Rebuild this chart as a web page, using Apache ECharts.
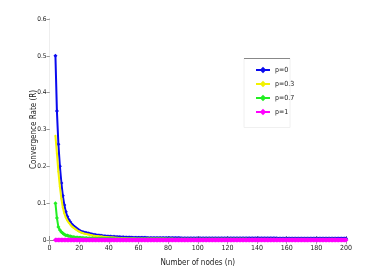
<!DOCTYPE html>
<html><head><meta charset="utf-8">
<script src="https://cdn.jsdelivr.net/npm/echarts@6/dist/echarts.min.js"></script>
<style>html,body{margin:0;padding:0;background:#fff}#c{width:382px;height:272px}</style>
</head><body><div id="c"></div>
<script>
var nodes = [4,5,6,7,8,9,10,11,12,13,
14,15,16,17,18,19,20,21,22,23,
24,25,26,27,28,29,30,31,32,33,
34,35,36,37,38,39,40,41,42,43,
44,45,46,47,48,49,50,51,52,53,
54,55,56,57,58,59,60,61,62,63,
64,65,66,67,68,69,70,71,72,73,
74,75,76,77,78,79,80,81,82,83,
84,85,86,87,88,89,90,91,92,93,
94,95,96,97,98,99,100,101,102,103,
104,105,106,107,108,109,110,111,112,113,
114,115,116,117,118,119,120,121,122,123,
124,125,126,127,128,129,130,131,132,133,
134,135,136,137,138,139,140,141,142,143,
144,145,146,147,148,149,150,151,152,153,
154,155,156,157,158,159,160,161,162,163,
164,165,166,167,168,169,170,171,172,173,
174,175,176,177,178,179,180,181,182,183,
184,185,186,187,188,189,190,191,192,193,
194,195,196,197,198,199,200];
var p0 = [.5,.35,.26,.2,.155,.12,.095,.077,.064,.055,
.049,.043,.039,.035,.032,.029,.026,.024,.022,.021,
.02,.019,.018,.017,.016,.015,.014,.0135,.013,.0125,
.012,.0115,.011,.0105,.01,.0098,.0095,.0092,.009,.0087,
.0085,.0083,.0081,.0079,.0077,.0075,.0073,.0071,.0069,.0067,
.0066,.0065,.0064,.0063,.0062,.0061,.006,.006,.0059,.0059,
.0058,.0058,.0057,.0057,.0056,.0056,.0055,.0055,.0054,.0054,
.0053,.0053,.0053,.0053,.0053,.0052,.0052,.0052,.0052,.0052,
.0051,.0051,.0051,.0051,.0051,.005,.005,.005,.005,.005,
.005,.005,.005,.005,.005,.005,.005,.005,.005,.005,
.0049,.0049,.0049,.0049,.0049,.0049,.0049,.0049,.0049,.0049,
.0048,.0048,.0048,.0048,.0048,.0048,.0048,.0048,.0048,.0048,
.0047,.0047,.0047,.0047,.0047,.0047,.0047,.0047,.0047,.0047,
.0046,.0046,.0046,.0046,.0046,.0046,.0046,.0046,.0046,.0046,
.0045,.0045,.0045,.0045,.0045,.0045,.0045,.0045,.0045,.0045,
.0044,.0044,.0044,.0044,.0044,.0044,.0044,.0044,.0044,.0044,
.0043,.0043,.0043,.0043,.0043,.0043,.0043,.0043,.0043,.0043,
.0042,.0042,.0042,.0042,.0042,.0042,.0042,.0042,.0042,.0042,
.0041,.0041,.0041,.0041,.0041,.0041,.0041,.0041,.0041,.0041,
.004,.004,.004,.004,.004,.004,.004];
var p03 = [.283,.235,.185,.145,.112,.088,.072,.061,.053,.047,
.042,.037,.034,.031,.028,.025,.023,.021,.019,.018,
.017,.016,.015,.014,.013,.012,.0115,.011,.0105,.01,
.0096,.0092,.0088,.0084,.008,.0077,.0074,.0071,.0068,.0065,
.0062,.006,.0058,.0056,.0054,.0052,.005,.0048,.0046,.0044,
.0042,.004,.0039,.0038,.0037,.0036,.0035,.0035,.0034,.0034,
.0033,.0033,.0033,.0033,.0033,.0032,.0032,.0032,.0032,.0032,
.0031,.0031,.0031,.0031,.0031,.003,.003,.003,.003,.003,
.003,.003,.003,.003,.003,.003,.003,.003,.003,.003,
.0029,.0029,.0029,.0029,.0029,.0029,.0029,.0029,.0029,.0029,
.0028,.0028,.0028,.0028,.0028,.0028,.0028,.0028,.0028,.0028,
.0027,.0027,.0027,.0027,.0027,.0027,.0027,.0027,.0027,.0027,
.0026,.0026,.0026,.0026,.0026,.0026,.0026,.0026,.0026,.0026,
.0025,.0025,.0025,.0025,.0025,.0025,.0025,.0025,.0025,.0025,
.0024,.0024,.0024,.0024,.0024,.0024,.0024,.0024,.0024,.0024,
.0023,.0023,.0023,.0023,.0023,.0023,.0023,.0023,.0023,.0023,
.0022,.0022,.0022,.0022,.0022,.0022,.0022,.0022,.0022,.0022,
.0021,.0021,.0021,.0021,.0021,.0021,.0021,.0021,.0021,.0021,
.002,.002,.002,.002,.002,.002,.002,.002,.002,.002,
.002,.002,.002,.002,.002,.002,.002];
var p07 = [.1,.06,.035,.027,.022,.018,.015,.013,.012,.011,
.01,.009,.008,.0075,.007,.0066,.0063,.006,.0058,.0056,
.0054,.0052,.005,.0048,.0046,.0045,.0044,.0043,.0042,.0041,
.004,.0039,.0038,.0037,.0036,.0035,.0034,.0033,.0032,.0031,
.003,.003,.003,.003,.003,.003,.003,.003,.003,.003,
.0028,.0028,.0028,.0028,.0028,.0028,.0028,.0028,.0028,.0028,
.0026,.0026,.0026,.0026,.0026,.0026,.0026,.0026,.0026,.0026,
.0024,.0024,.0024,.0024,.0024,.0024,.0024,.0024,.0024,.0024,
.0022,.0022,.0022,.0022,.0022,.0022,.0022,.0022,.0022,.0022,
.002,.002,.002,.002,.002,.002,.002,.002,.002,.002,
.0019,.0019,.0019,.0019,.0019,.0019,.0019,.0019,.0019,.0019,
.0018,.0018,.0018,.0018,.0018,.0018,.0018,.0018,.0018,.0018,
.0017,.0017,.0017,.0017,.0017,.0017,.0017,.0017,.0017,.0017,
.0016,.0016,.0016,.0016,.0016,.0016,.0016,.0016,.0016,.0016,
.0015,.0015,.0015,.0015,.0015,.0015,.0015,.0015,.0015,.0015,
.0014,.0014,.0014,.0014,.0014,.0014,.0014,.0014,.0014,.0014,
.0013,.0013,.0013,.0013,.0013,.0013,.0013,.0013,.0013,.0013,
.0012,.0012,.0012,.0012,.0012,.0012,.0012,.0012,.0012,.0012,
.0011,.0011,.0011,.0011,.0011,.0011,.0011,.0011,.0011,.0011,
.001,.001,.001,.001,.001,.001,.001];
var p1 = [0,0,0,0,0,0,0,0,0,0,
0,0,0,0,0,0,0,0,0,0,
0,0,0,0,0,0,0,0,0,0,
0,0,0,0,0,0,0,0,0,0,
0,0,0,0,0,0,0,0,0,0,
0,0,0,0,0,0,0,0,0,0,
0,0,0,0,0,0,0,0,0,0,
0,0,0,0,0,0,0,0,0,0,
0,0,0,0,0,0,0,0,0,0,
0,0,0,0,0,0,0,0,0,0,
0,0,0,0,0,0,0,0,0,0,
0,0,0,0,0,0,0,0,0,0,
0,0,0,0,0,0,0,0,0,0,
0,0,0,0,0,0,0,0,0,0,
0,0,0,0,0,0,0,0,0,0,
0,0,0,0,0,0,0,0,0,0,
0,0,0,0,0,0,0,0,0,0,
0,0,0,0,0,0,0,0,0,0,
0,0,0,0,0,0,0,0,0,0,
0,0,0,0,0,0,0];
var seriesNames = ['p=0','p=0.3','p=0.7','p=1'];
var xLabel = 'Number of nodes (n)';
var yLabel = 'Convergence Rate (R)';

var FONT = '"Liberation Sans Narrow", "DejaVu Sans Condensed", "Liberation Sans", sans-serif';
function pairs(v){ return nodes.map(function(n,i){ return [n, v[i]]; }); }
var colors = ['#0a0aee','#f2f200','#22ee22','#ff00ff'];
var vals = [p0,p03,p07,p1];
var series = vals.map(function(v,i){
  return {
    name: seriesNames[i], type:'line', data: pairs(v),
    symbol: 'diamond', symbolSize: i===3 ? 5 : (i===1 ? 2.5 : 4),
    showSymbol: true,
    lineStyle:{color:colors[i], width: i===3 ? 3 : 2},
    itemStyle:{color:colors[i]},
    animation:false, z: 2+i
  };
});
var chart = echarts.init(document.getElementById('c'), null, {renderer:'canvas'});
chart.setOption({
  animation:false,
  backgroundColor:'#fff',
  grid:{left:49.5, right:36, top:19, bottom:30},
  legend:{
    orient:'vertical', left:250, top:61.5, itemWidth:14, itemHeight:8, itemGap:7,
    textStyle:{fontSize:7, fontFamily:FONT, color:'#222'},
    data: seriesNames
  },
  graphic:[
    {type:'rect', shape:{x:244, y:58.5, width:46, height:69}, style:{fill:'none', stroke:'#f0f0f0', lineWidth:1}, z:0},
    {type:'line', shape:{x1:244, y1:58.5, x2:290, y2:58.5}, style:{stroke:'#888', lineWidth:1}, z:10}
  ],
  xAxis:[{
    type:'value', min:0, max:200, interval:20,
    name:xLabel, nameLocation:'middle', nameGap:19, nameMoveOverlap:false,
    nameTextStyle:{fontSize:8, fontFamily:FONT, color:'#222'},
    axisLine:{show:true, lineStyle:{color:'#888'}},
    axisTick:{show:true, inside:true, length:4, lineStyle:{color:'#888'}},
    axisLabel:{fontSize:7, fontFamily:FONT, color:'#222', margin:5},
    splitLine:{show:false}
  },{
    type:'value', min:0, max:200, interval:20, position:'top',
    axisLine:{show:true, lineStyle:{color:'#888'}},
    axisTick:{show:true, inside:true, length:4, lineStyle:{color:'#aaa'}},
    axisLabel:{show:false}, splitLine:{show:false}
  }],
  yAxis:[{
    type:'value', min:0, max:0.6, interval:0.1,
    name:yLabel, nameLocation:'middle', nameGap:12, nameRotate:90, nameMoveOverlap:false,
    nameTextStyle:{fontSize:8, fontFamily:FONT, color:'#222'},
    axisLine:{show:true, lineStyle:{color:'#888'}},
    axisTick:{show:true, inside:false, length:2, lineStyle:{color:'#888'}},
    axisLabel:{fontSize:6.5, fontFamily:FONT, color:'#222', margin:3,
      formatter:function(v){ return v===0 ? '0' : String(Math.round(v*10)/10); }},
    splitLine:{show:false}
  },{
    type:'value', min:0, max:0.6, interval:0.1, position:'right',
    axisLine:{show:true, lineStyle:{color:'#eee'}},
    axisTick:{show:true, inside:true, length:3, lineStyle:{color:'#999'}},
    axisLabel:{show:false}, splitLine:{show:false}
  }],
  series: series
});
</script></body></html>
